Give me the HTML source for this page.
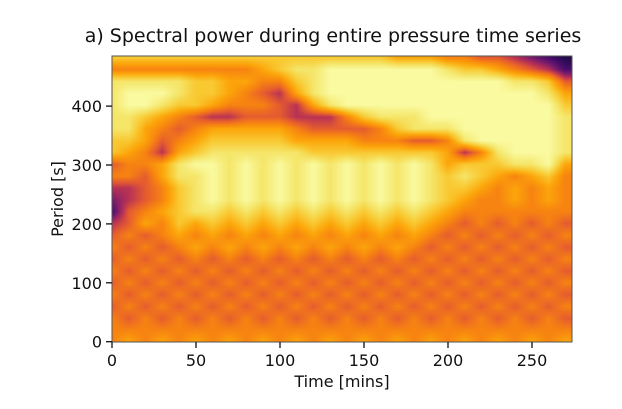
<!DOCTYPE html>
<html><head><meta charset="utf-8"><style>
body{margin:0;background:#fff;width:622px;height:409px;overflow:hidden;position:relative;font-family:"DejaVu Sans","Liberation Sans",sans-serif}
#heat{position:absolute;left:112px;top:56px;width:460px;height:286px}
svg{position:absolute;left:0;top:0}
</style></head><body>
<canvas id="heat" width="460" height="286"></canvas>
<svg width="622" height="409">
<text x="333" y="42" font-size="19" text-anchor="middle" fill="#111">a) Spectral power during entire pressure time series</text>
<rect x="112" y="56" width="460" height="286" fill="none" stroke="#555" stroke-width="1"/>
<g id="xt"></g>
<g id="yt"></g>
<text x="342" y="387" font-size="16" text-anchor="middle" fill="#111">Time [mins]</text>
<text transform="translate(63,199) rotate(-90)" font-size="16" text-anchor="middle" fill="#111">Period [s]</text>
</svg>
<script>
const xTicks=[0,50,100,150,200,250];
const yTicks=[0,100,200,300,400];
// rows from 480 s (top) down to 0 s step 20, columns 0..270 min step 10; values 0 (dark) .. 9 (pale)
const powerRows=[
"7777777777777777766655443210",
"5555555556788999999987765431",
"8888877665578999999999998874",
"8999877654368999999999999986",
"8998776555436899999999999997",
"8876543344433357888999999998",
"8865456666654444578889999998",
"7764567777766665554458999998",
"7653678888887777777763589998",
"4556899898989898989867778896",
"5546889898989898989878765675",
"3345789898989898989877656565",
"2345789898989898989876556565",
"1456788787878787878765555555",
"3465767676767676767654545454",
"4545656565656565656545454545",
"5454565656565656565454545454",
"4545454545454545454545454545",
"5454545454545454545454545454",
"4545454545454545454545454545",
"5454545454545454545454545454",
"4545454545454545454545454545",
"5454545454545454545454545454",
"5555555555555555555555555555",
"5656565656565656565656565656"];
const cmap=[[32,12,74],[74,12,107],[120,28,109],[184,50,85],[229,92,48],[247,131,17],[252,165,10],[249,201,50],[245,230,106],[250,250,160]];
const X=v=>112+v*1.68, Y=v=>341.7-v*0.589;
const ns="http://www.w3.org/2000/svg";
const cv=document.getElementById('heat'),c=cv.getContext('2d');
const W=460,H=286,img=c.createImageData(W,H);
const nr=powerRows.length,nc=powerRows[0].length;
const val=(i,j)=>+powerRows[Math.max(0,Math.min(nr-1,i))][Math.max(0,Math.min(nc-1,j))];
for(let py=0;py<H;py++){
 const s=483-(py+0.5)/H*483, fi=(480-s)/20;
 const i0=Math.floor(fi), di=fi-i0;
 for(let px=0;px<W;px++){
  const t=(px+0.5)/W*274, fj=t/10;
  const j0=Math.floor(fj), dj=fj-j0;
  const v=(val(i0,j0)*(1-dj)+val(i0,j0+1)*dj)*(1-di)+(val(i0+1,j0)*(1-dj)+val(i0+1,j0+1)*dj)*di;
  const k=Math.min(8,Math.floor(v)), f=v-k, a=cmap[k], b=cmap[k+1];
  const o=(py*W+px)*4;
  for(let q=0;q<3;q++) img.data[o+q]=a[q]+(b[q]-a[q])*f;
  img.data[o+3]=255;
 }
}
c.putImageData(img,0,0);
const xt=document.getElementById('xt'), yt=document.getElementById('yt');
xTicks.forEach(t=>{
 const l=document.createElementNS(ns,'line');
 
 
 l.setAttribute('x1',X(t));l.setAttribute('x2',X(t));l.setAttribute('y1',342);l.setAttribute('y2',348);l.setAttribute('stroke','#111');l.setAttribute('stroke-width','1.3');
 xt.appendChild(l);
 const s=document.createElementNS(ns,'text');
 
 
 s.setAttribute('x',X(t));s.setAttribute('y',366);s.setAttribute('font-size','16');s.setAttribute('text-anchor','middle');s.setAttribute('fill','#111');
 s.textContent=t;xt.appendChild(s);
});
yTicks.forEach(t=>{
 const l=document.createElementNS(ns,'line');
 
 
 l.setAttribute('x1',106);l.setAttribute('x2',112);l.setAttribute('y1',Y(t));l.setAttribute('y2',Y(t));l.setAttribute('stroke','#111');l.setAttribute('stroke-width','1.3');
 yt.appendChild(l);
 const s=document.createElementNS(ns,'text');
 
 
 s.setAttribute('x',102);s.setAttribute('y',Y(t)+6);s.setAttribute('font-size','16');s.setAttribute('text-anchor','end');s.setAttribute('fill','#111');
 s.textContent=t;yt.appendChild(s);
});
</script>
</body></html>
